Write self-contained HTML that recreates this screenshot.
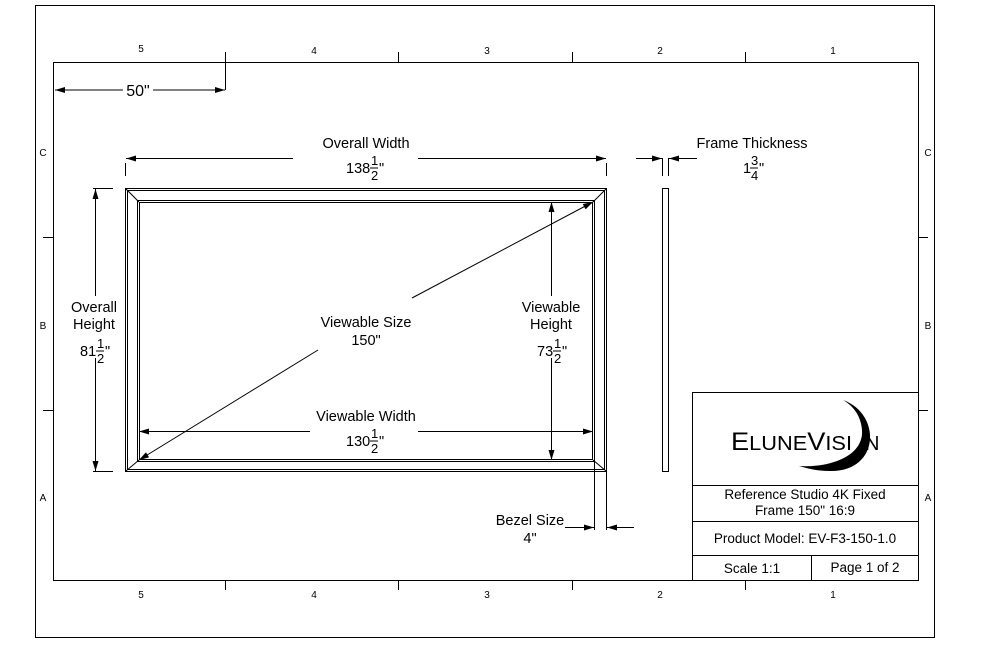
<!DOCTYPE html>
<html><head><meta charset="utf-8"><style>
html,body{margin:0;padding:0;background:#fff;}
svg{display:block;}
text{font-family:"Liberation Sans",sans-serif;fill:#000;}
</style></head><body>
<svg width="996" height="648" viewBox="0 0 996 648" xmlns="http://www.w3.org/2000/svg">
<defs>
<marker id="a" viewBox="0 0 10 6" refX="10" refY="3" markerWidth="15" markerHeight="6" markerUnits="userSpaceOnUse" orient="auto-start-reverse"><path d="M0,0L10,3L0,6z" fill="#000"/></marker>
</defs>
<rect x="35.5" y="5.5" width="899" height="632" fill="none" stroke="#000" stroke-width="1"/>
<rect x="53.5" y="62.5" width="865" height="518" fill="none" stroke="#000" stroke-width="1"/>
<g stroke="#000" stroke-width="1">
<line x1="225.5" y1="52" x2="225.5" y2="62"/><line x1="398.5" y1="52" x2="398.5" y2="62"/><line x1="572.5" y1="52" x2="572.5" y2="62"/><line x1="745.5" y1="52" x2="745.5" y2="62"/>
<line x1="225.5" y1="580" x2="225.5" y2="590"/><line x1="398.5" y1="580" x2="398.5" y2="590"/><line x1="572.5" y1="580" x2="572.5" y2="590"/><line x1="745.5" y1="580" x2="745.5" y2="590"/>
<line x1="43" y1="237.5" x2="53" y2="237.5"/><line x1="43" y1="410.5" x2="53" y2="410.5"/>
<line x1="918" y1="237.5" x2="928" y2="237.5"/><line x1="918" y1="410.5" x2="928" y2="410.5"/>
</g>
<g font-size="10" text-anchor="middle">
<text x="141" y="52">5</text><text x="314" y="54">4</text><text x="487" y="54">3</text><text x="660" y="54">2</text><text x="833" y="54">1</text>
<text x="141" y="598">5</text><text x="314" y="598">4</text><text x="487" y="598">3</text><text x="660" y="598">2</text><text x="833" y="598">1</text>
<text x="43" y="156">C</text><text x="43" y="329">B</text><text x="43" y="501">A</text>
<text x="928" y="156">C</text><text x="928" y="329">B</text><text x="928" y="501">A</text>
</g>
<g fill="none" stroke="#000" stroke-width="1">
<rect x="125.5" y="188.5" width="481" height="283"/>
<rect x="127.5" y="190.5" width="477" height="279"/>
<rect x="137.5" y="200.5" width="457" height="261"/>
<rect x="139.5" y="202.5" width="453" height="257"/>
<line x1="126" y1="189" x2="139" y2="202"/><line x1="606" y1="189" x2="593" y2="202"/>
<line x1="126" y1="471" x2="139" y2="460"/><line x1="606" y1="471" x2="593" y2="460"/>
<rect x="662.5" y="188.5" width="6" height="283"/>
</g>
<g stroke="#000" stroke-width="1" fill="none">
<line x1="225.5" y1="62" x2="225.5" y2="90"/>
<line x1="55" y1="90" x2="123" y2="90" marker-start="url(#a)"/><line x1="153" y1="90" x2="225" y2="90" marker-end="url(#a)"/>
<line x1="125.5" y1="163" x2="125.5" y2="176"/><line x1="606.5" y1="163" x2="606.5" y2="176"/>
<line x1="126" y1="158.5" x2="293" y2="158.5" marker-start="url(#a)"/><line x1="418" y1="158.5" x2="606" y2="158.5" marker-end="url(#a)"/>
<line x1="662.5" y1="158" x2="662.5" y2="176"/><line x1="668.5" y1="158" x2="668.5" y2="176"/>
<line x1="636" y1="158.5" x2="662" y2="158.5" marker-end="url(#a)"/><line x1="697" y1="158.5" x2="669" y2="158.5" marker-end="url(#a)"/>
<line x1="93" y1="188.5" x2="113" y2="188.5"/><line x1="93" y1="471.5" x2="113" y2="471.5"/>
<line x1="95.5" y1="296" x2="95.5" y2="189" marker-end="url(#a)"/><line x1="95.5" y1="358" x2="95.5" y2="471" marker-end="url(#a)"/>
<line x1="551.5" y1="296" x2="551.5" y2="202" marker-end="url(#a)"/><line x1="551.5" y1="358" x2="551.5" y2="460" marker-end="url(#a)"/>
<line x1="310" y1="431.5" x2="139" y2="431.5" marker-end="url(#a)"/><line x1="418" y1="431.5" x2="593" y2="431.5" marker-end="url(#a)"/>
<line x1="318" y1="350" x2="139" y2="460" marker-end="url(#a)"/><line x1="412" y1="298" x2="593" y2="202" marker-end="url(#a)"/>
<line x1="594.5" y1="461" x2="594.5" y2="530"/><line x1="606.5" y1="471" x2="606.5" y2="530"/>
<line x1="565" y1="527.5" x2="594" y2="527.5" marker-end="url(#a)"/><line x1="634" y1="527.5" x2="607" y2="527.5" marker-end="url(#a)"/>
</g>
<g font-size="14.5" text-anchor="middle">
<text x="138" y="96" font-size="16">50"</text>
<text x="366" y="148">Overall Width</text>
<text x="752" y="148">Frame Thickness</text>
<text x="94" y="312">Overall</text><text x="94" y="329">Height</text>
<text x="366" y="327">Viewable Size</text><text x="366" y="345">150"</text>
<text x="551" y="312">Viewable</text><text x="551" y="329">Height</text>
<text x="366" y="421">Viewable Width</text>
<text x="530" y="525">Bezel Size</text><text x="530" y="543">4"</text>
</g>
<g font-size="14.5">
<text x="346" y="173">138</text><text x="371" y="165" font-size="13">1</text><line x1="370" y1="168" x2="378" y2="168" stroke="#000"/><text x="371" y="180" font-size="13">2</text><text x="379" y="173">"</text>
<text x="743" y="173">1</text><text x="751" y="165" font-size="13">3</text><line x1="750" y1="168" x2="758" y2="168" stroke="#000"/><text x="751" y="180" font-size="13">4</text><text x="759" y="173">"</text>
<text x="80" y="356">81</text><text x="97" y="348" font-size="13">1</text><line x1="96" y1="351" x2="104" y2="351" stroke="#000"/><text x="97" y="363" font-size="13">2</text><text x="105" y="356">"</text>
<text x="537" y="356">73</text><text x="554" y="348" font-size="13">1</text><line x1="553" y1="351" x2="561" y2="351" stroke="#000"/><text x="554" y="363" font-size="13">2</text><text x="562" y="356">"</text>
<text x="346" y="446">130</text><text x="371" y="438" font-size="13">1</text><line x1="370" y1="441" x2="378" y2="441" stroke="#000"/><text x="371" y="453" font-size="13">2</text><text x="379" y="446">"</text>
</g>
<g fill="none" stroke="#000" stroke-width="1">
<rect x="692.5" y="392.5" width="226" height="188"/>
<line x1="692" y1="485.5" x2="918" y2="485.5"/>
<line x1="692" y1="521.5" x2="918" y2="521.5"/>
<line x1="692" y1="555.5" x2="918" y2="555.5"/>
<line x1="811.5" y1="555" x2="811.5" y2="580"/>
</g>
<text x="731" y="450" font-size="25" textLength="121" lengthAdjust="spacingAndGlyphs" font-family="'DejaVu Sans Condensed','Liberation Sans Narrow','Liberation Sans',sans-serif">E<tspan font-size="20">LUNE</tspan>V<tspan font-size="20">ISI</tspan></text>
<path d="M843,400 C882,414 880,472 830,471 C816,471 806,468 799,466 C830,468 864,456 862,430 C861,415 852,405 843,400 Z" fill="#000"/>
<text x="865" y="450" font-size="20" font-family="'DejaVu Sans Condensed','Liberation Sans Narrow','Liberation Sans',sans-serif">N</text>
<g font-size="13.5" text-anchor="middle">
<text x="805" y="499">Reference Studio 4K Fixed</text>
<text x="805" y="515">Frame 150" 16:9</text>
<text x="805" y="543">Product Model: EV-F3-150-1.0</text>
<text x="752" y="573">Scale 1:1</text>
<text x="865" y="572">Page 1 of 2</text>
</g>
</svg>
</body></html>
